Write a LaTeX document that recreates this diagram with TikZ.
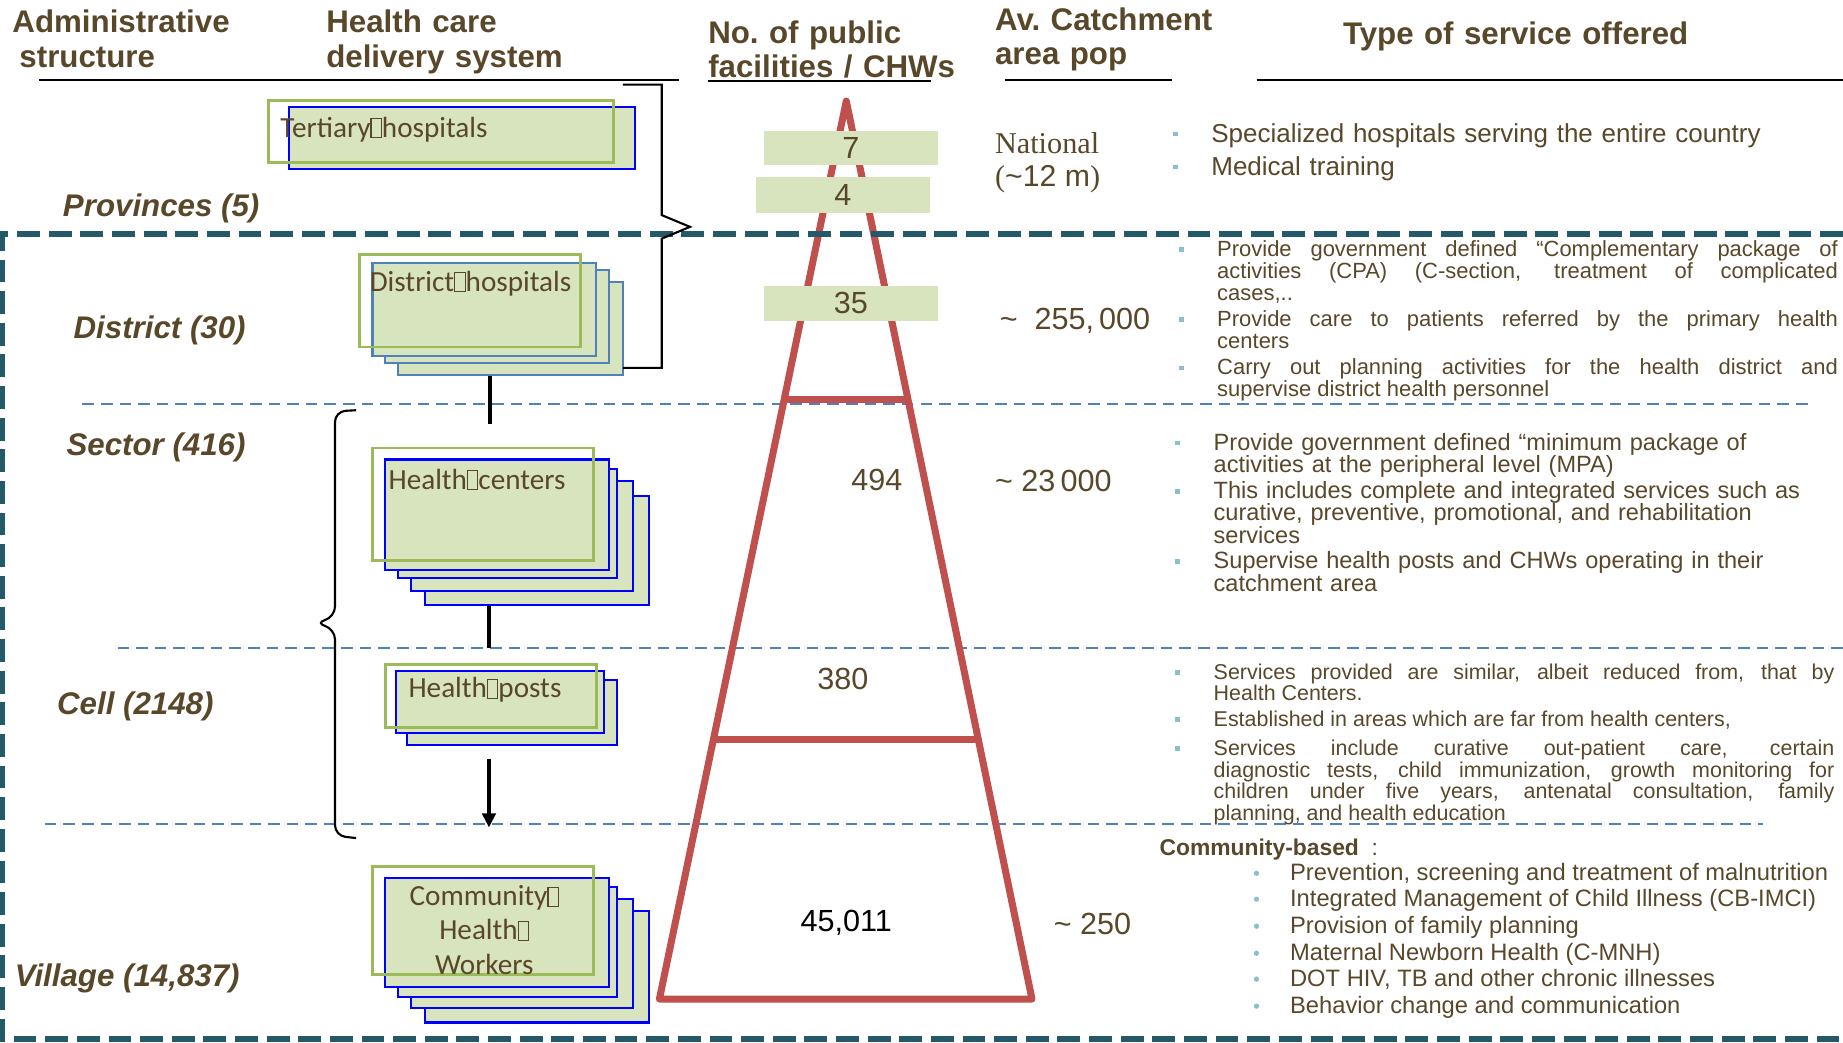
\documentclass[tikz,border=0pt]{standalone}
\usepackage{fontspec}
\setmainfont{Liberation Sans}
\newfontfamily\timesfont{Liberation Serif}
\newfontfamily\calfont{Carlito}
\usetikzlibrary{positioning,calc,arrows.meta}
\definecolor{textColor}{RGB}{89,71,42}
\definecolor{lineTeal}{RGB}{36,89,105}
\definecolor{lineBlue}{RGB}{79,129,189}
\definecolor{pyrRed}{RGB}{192,80,77}
\definecolor{boxFill}{RGB}{215,228,189}
\definecolor{boxGreen}{RGB}{155,187,89}
\definecolor{boxBlue}{RGB}{0,0,255}
\definecolor{bulletBlue}{RGB}{140,190,210}
\newlength{\pxlen}
\setlength{\pxlen}{0.11754mm}
\newcommand{\tofu}{{\setlength{\fboxsep}{0pt}\setlength{\fboxrule}{0.3pt}\fbox{\rule{0pt}{0.62em}\hspace{0.32em}}}}
\tolerance=10000
\hyphenpenalty=10000
\exhyphenpenalty=10000

\begin{document}
\begin{tikzpicture}[x=0.11754mm,y=-0.11754mm,text=textColor,>={Triangle[length=4pt,width=3.8pt]}]
    \tikzstyle{head} = [font=\bfseries\fontsize{8.9}{9.7}\selectfont,inner sep=0,anchor=base west,text width=240*\pxlen,align=left]
    \tikzstyle{level} = [font=\bfseries\itshape\fontsize{8.9}{9.7}\selectfont,inner sep=0,anchor=west]
    \tikzstyle{rule} = [black,line width=0.7pt]
    \tikzstyle{tealdash} = [lineTeal,line width=1.6pt,dash pattern=on 6.5pt off 2.5pt]
    \tikzstyle{bluedash} = [lineBlue,line width=0.6pt,dash pattern=on 3.3pt off 2pt]
    \tikzstyle{back} = [draw=boxBlue,fill=boxFill,line width=0.6pt,anchor=north west,inner sep=0]
    \tikzstyle{backlt} = [back,draw=lineBlue]
    \tikzstyle{front} = [draw=boxGreen,line width=0.8pt,anchor=north west,inner sep=0]
    \tikzstyle{boxtext} = [font=\calfont\fontsize{8.3}{9.7}\selectfont,inner sep=0,anchor=west]
    \tikzstyle{numtag} = [fill=boxFill,minimum width=148*\pxlen,minimum height=29*\pxlen,inner sep=0,font=\fontsize{8.7}{9}\selectfont]
    \tikzstyle{num} = [font=\fontsize{8.7}{9}\selectfont,inner sep=0]
    \tikzstyle{pop} = [font=\fontsize{8.7}{9}\selectfont,inner sep=0,anchor=base west]
    \tikzstyle{pyramid} = [draw=pyrRed,line width=2pt,line join=round]
    \tikzstyle{brace} = [black,line width=0.6pt]
    \tikzstyle{link} = [black,line width=1.3pt]
    \tikzstyle{sq} = [rectangle,fill=bulletBlue,minimum size=4*\pxlen,inner sep=0]
    \tikzstyle{dot} = [circle,fill=bulletBlue,minimum size=4.5*\pxlen,inner sep=0]
    \tikzstyle{svc} = [inner sep=0,anchor=base west,text width=528*\pxlen,align=justify]
    \tikzset{boxsize/.style 2 args={minimum width=#1*\pxlen,minimum height=#2*\pxlen}}

    \useasboundingbox (0,0) rectangle (1568,887);

    % column heads
    \node[head] (hadmin) at (10,28) {Administrative\\\hspace*{2pt}structure};
    \node[head] (hdeliv) at (277,28) {Health care\\delivery system};
    \node[head] (hcount) at (602,37) {No.\ of public\\facilities / CHWs};
    \node[head] (hpop) at (846,26) {Av.\ Catchment\\area pop};
    \node[head,text width=320*\pxlen] (hsvc) at (1142,38) {Type of service offered};
    \draw[rule] (33,68) -- (578,68);
    \draw[rule] (602,69) -- (792,69);
    \draw[rule] (855,68) -- (997,68);
    \draw[rule] (1069,68) -- (1568,68);

    % level separators
    \draw[bluedash] (70,344) -- (1538,344);
    \draw[bluedash] (100,551) -- (1568,551);
    \draw[bluedash] (38,701) -- (1500,701);

    % pyramid
    \coordinate (apex) at (720,86);
    \coordinate (baseL) at (561,850);
    \coordinate (baseR) at (878,850);
    \draw[pyramid] (apex) -- (baseL) -- (baseR) -- cycle;
    \draw[pyramid] ($(apex)!0.3325!(baseL)$) -- ($(apex)!0.3325!(baseR)$);
    \draw[pyramid] ($(apex)!0.7107!(baseL)$) -- ($(apex)!0.7107!(baseR)$);

    \node[numtag] (n7) at (724,126) {7};
    \node[numtag,minimum height=31*\pxlen] (n4) at (717,166) {4};
    \node[numtag,minimum height=30*\pxlen] (n35) at (724,258) {35};
    \node[num] (n494) at (746,408) {494};
    \node[num] (n380) at (717,578) {380};
    \node[num,text=black] (n45011) at (720,785) {45,011};

    \draw[tealdash] (1568,199) -- (2,199) -- (2,884) -- (1568,884);

    % administrative levels
    \node[level] (lvprov) at (53,177) {Provinces (5)};
    \node[level] (lvdist) at (62,281) {District (30)};
    \node[level] (lvsect) at (56,381) {Sector (416)};
    \node[level] (lvcell) at (48,601) {Cell (2148)};
    \node[level] (lvvill) at (12,832) {Village (14,837)};

    % tertiary hospitals
    \node[back,boxsize={294}{53}] (th1) at (245,90) {};
    \node[front,boxsize={294}{53}] (th) at (227,84) {};
    \node[boxtext] (thtext) at ($(th.north west)+(11,26)$) {Tertiary\tofu hospitals};

    % district hospitals
    \node[backlt,boxsize={191}{79}] (dh3) at (338,239) {};
    \node[backlt,boxsize={190}{79}] (dh2) at (327,229) {};
    \node[backlt,boxsize={190}{79}] (dh1) at (316,223) {};
    \node[front,boxsize={188}{79}] (dh) at (305,215) {};
    \node[boxtext] (dhtext) at ($(dh.north west)+(9,26)$) {District\tofu hospitals};

    % health centers
    \node[back,boxsize={190}{93}] (hc4) at (361,421) {};
    \node[back,boxsize={189}{94}] (hc3) at (349,408) {};
    \node[back,boxsize={186}{93}] (hc2) at (338,398) {};
    \node[back,boxsize={190}{94}] (hc1) at (327,390) {};
    \node[front,boxsize={188}{96}] (hc) at (316,380) {};
    \node[boxtext] (hctext) at ($(hc.north west)+(14,28)$) {Health\tofu centers};

    % health posts
    \node[back,boxsize={179}{55}] (hp2) at (345,578) {};
    \node[back,boxsize={177}{53}] (hp1) at (336,570) {};
    \node[front,boxsize={179}{54}] (hp) at (327,564) {};
    \node[boxtext] (hptext) at ($(hp.north west)+(20,23)$) {Health\tofu posts};

    % community health workers
    \node[back,boxsize={190}{95}] (chw4) at (361,774) {};
    \node[back,boxsize={189}{93}] (chw3) at (349,764) {};
    \node[back,boxsize={186}{93}] (chw2) at (338,754) {};
    \node[back,boxsize={190}{93}] (chw1) at (327,746) {};
    \node[front,boxsize={188}{92}] (chw) at (316,736) {};
    \node[boxtext,anchor=north,align=center] (chwtext) at (412,753) {Community\tofu\\Health\tofu\\Workers};

    % links between levels
    \coordinate (dhend) at (417,361);
    \draw[link] (dhend |- dh3.south) -- (dhend);
    \coordinate (hcend) at (416,551);
    \draw[link] (hcend |- hc4.south) -- (hcend);
    \coordinate (chwin) at (416,704);
    \draw[link,->,shorten <=3.7pt] (chwin |- hp2.south) -- (chwin);

    % brackets
    \draw[brace] (530,72) -- (563,72) -- (563,183) -- (587,193) -- (563,203) -- (563,313) -- (530,313);
    \draw[brace,rounded corners=3pt] (303,349) -- (285,350) -- (285,525) -- (268,530) -- (285,535) -- (285,711) -- (303,713);

    % catchment population
    \node[pop,font=\timesfont\fontsize{8.6}{9.7}\selectfont] (popnat) at (846,131) {National};
    \node[pop,font=\timesfont\fontsize{8.6}{9.7}\selectfont] (popnat2) at (846,159) {({\normalfont\textasciitilde12 m})};
    \node[pop] (popdist) at (850,280) {\textasciitilde\ \ 255,\,000};
    \node[pop] (popsect) at (846,418) {\textasciitilde\ 23\,000};
    \node[pop] (popvill) at (896,795) {\textasciitilde\ 250};

    % services: tertiary
    \node[sq] (b1a) at (1000,114) {};
    \node[svc,font=\fontsize{7.4}{9}\selectfont,align=left] (s1a) at (1030,121) {Specialized hospitals serving the entire country};
    \node[sq] (b1b) at (1000,142) {};
    \node[svc,font=\fontsize{7.4}{9}\selectfont,align=left] (s1b) at (1030,149) {Medical training};

    % services: district
    \node[sq] (b2a) at (1005,212) {};
    \node[svc,font=\fontsize{6.25}{6.25}\selectfont] (s2a) at (1035,218) {Provide government defined “Complementary package of\linebreak activities (CPA) (C-section, treatment of complicated\linebreak cases,..};
    \node[sq] (b2b) at (1005,272) {};
    \node[svc,font=\fontsize{6.25}{6.25}\selectfont] (s2b) at (1035,278) {Provide care to patients referred by the primary health\linebreak centers};
    \node[sq] (b2c) at (1005,313) {};
    \node[svc,font=\fontsize{6.25}{6.25}\selectfont] (s2c) at (1035,319) {Carry out planning activities for the health district and\linebreak supervise district health personnel};

    % services: sector
    \node[sq] (b3a) at (1002,377) {};
    \node[svc,font=\fontsize{6.7}{6.35}\selectfont,align=left,text width=540*\pxlen] (s3a) at (1032,383) {Provide government defined “minimum package of\\activities at the peripheral level (MPA)};
    \node[sq] (b3b) at (1002,418) {};
    \node[svc,font=\fontsize{6.7}{6.35}\selectfont,align=left,text width=540*\pxlen] (s3b) at (1032,424) {This includes complete and integrated services such as\\curative, preventive, promotional, and rehabilitation\\services};
    \node[sq] (b3c) at (1002,478) {};
    \node[svc,font=\fontsize{6.7}{6.35}\selectfont,align=left,text width=540*\pxlen] (s3c) at (1032,484) {Supervise health posts and CHWs operating in their\\catchment area};

    % services: cell
    \node[sq] (b4a) at (1002,572) {};
    \node[svc,font=\fontsize{6.1}{6.1}\selectfont] (s4a) at (1032,578) {Services provided are similar, albeit reduced from, that by\linebreak Health Centers.};
    \node[sq] (b4b) at (1002,612) {};
    \node[svc,font=\fontsize{6.1}{6.1}\selectfont] (s4b) at (1032,618) {Established in areas which are far from health centers,};
    \node[sq] (b4c) at (1002,637) {};
    \node[svc,font=\fontsize{6.1}{6.1}\selectfont] (s4c) at (1032,643) {Services include curative out-patient care, certain\linebreak diagnostic tests, child immunization, growth monitoring for\linebreak children under five years, antenatal consultation, family\linebreak planning, and health education};

    % services: village
    \node[pop,font=\bfseries\fontsize{6.5}{7}\selectfont] (cbhead) at (986,728) {Community-based\ \ {\mdseries :}};
    \node[dot] (b5a) at (1069,743) {};
    \node[pop,font=\fontsize{6.75}{7}\selectfont] (s5a) at (1097,749.5) {Prevention, screening and treatment of malnutrition};
    \node[dot] (b5b) at (1069,765) {};
    \node[pop,font=\fontsize{6.75}{7}\selectfont] (s5b) at (1097,771.5) {Integrated Management of Child Illness (CB-IMCI)};
    \node[dot] (b5c) at (1069,788) {};
    \node[pop,font=\fontsize{6.75}{7}\selectfont] (s5c) at (1097,794.5) {Provision of family planning};
    \node[dot] (b5d) at (1069,811) {};
    \node[pop,font=\fontsize{6.75}{7}\selectfont] (s5d) at (1097,817.5) {Maternal Newborn Health (C-MNH)};
    \node[dot] (b5e) at (1069,833) {};
    \node[pop,font=\fontsize{6.75}{7}\selectfont] (s5e) at (1097,839.5) {DOT HIV, TB and other chronic illnesses};
    \node[dot] (b5f) at (1069,856) {};
    \node[pop,font=\fontsize{6.75}{7}\selectfont] (s5f) at (1097,862.5) {Behavior change and communication};
\end{tikzpicture}
\end{document}
